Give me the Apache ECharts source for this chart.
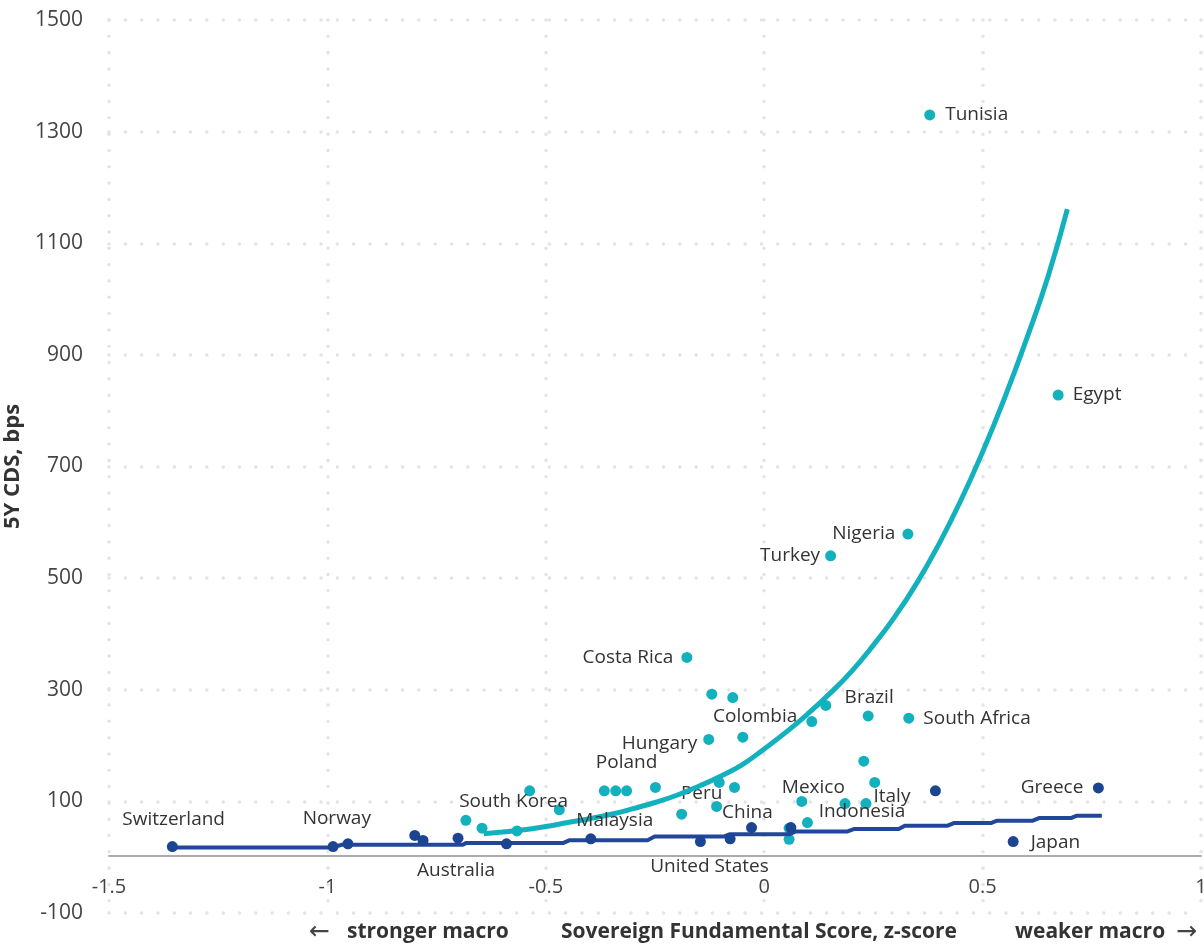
<!DOCTYPE html>
<html><head><meta charset="utf-8">
<script src="https://cdn.jsdelivr.net/npm/echarts@6/dist/echarts.min.js"></script>
<style>html,body{margin:0;padding:0;background:#fff}#c{width:1204px;height:948px}</style>
</head><body><div id="c"></div>
<script>
// Emerging markets (teal)
const emNames = ['Tunisia','Egypt','Nigeria','Turkey','Costa Rica','Brazil','South Africa','Colombia','','','',
  'Hungary','','Poland','','','','South Korea','','','','','Peru','','','China','','','Mexico','','Indonesia','','',''];
const emScore = [0.379,0.673,0.329,0.152,-0.177,0.238,0.331,0.109,0.141,-0.120,-0.072,
  -0.127,-0.049,-0.315,-0.366,-0.340,-0.249,-0.537,-0.469,-0.683,-0.646,-0.566,-0.189,-0.103,-0.068,-0.109,0.057,0.057,0.086,0.099,0.185,0.233,0.228,0.253];
const emCds = [1330,828,579,540,358,253,249,243,272,292,286,
  211,215,119,119,119,125,119,85,66,52,47,77,134,125,91,52,32,100,62,96,96,172,134];

// Developed markets (navy)
const dmNames = ['Switzerland','Norway','','','','Australia','','Malaysia','United States','','','','Italy','Japan','Greece'];
const dmScore = [-1.355,-0.987,-0.953,-0.800,-0.781,-0.701,-0.590,-0.397,-0.146,-0.078,-0.029,0.061,0.392,0.570,0.765];
const dmCds = [19,19,24,39,30,34,24,33,28,33,53,53,119,28,124];

// Fitted curves
const emFitScore = [-0.642,-0.60,-0.55,-0.50,-0.45,-0.40,-0.35,-0.30,-0.25,-0.20,-0.15,-0.10,-0.05,0.00,0.05,0.10,0.15,0.20,0.25,0.30,0.35,0.40,0.45,0.50,0.55,0.60,0.65,0.694];
const emFitCds = [42,45,49,55,62,69,77,87,98,111,127,145,166,194,224,257,293,333,380,432,492,561,639,726,822,927,1041,1161];
const dmFitScore = [-1.354,-0.988,-0.967,-0.690,-0.683,-0.461,-0.445,-0.267,-0.251,-0.093,-0.078,0.058,0.072,0.191,0.205,0.308,0.322,0.420,0.434,0.519,0.533,0.615,0.629,0.702,0.716,0.773];
const dmFitCds = [17.5,17.5,22.3,22.3,25.2,25.2,30.5,30.5,37,37,41.3,41.3,46.2,46.2,50.3,50.3,56.4,56.4,61.1,61.1,65.4,65.4,70,70,74.4,74.4];

const yTickValues = [-100,100,300,500,700,900,1100,1300,1500];

// label placement (layout, not data)
const labelPlace = {
  'Tunisia':['right',10,0], 'Egypt':['right',9,0], 'Nigeria':['left',7,0], 'Turkey':['left',5,0],
  'Costa Rica':['left',8,0], 'Brazil':['c',1,-18], 'South Africa':['right',9,0], 'Colombia':['left',9,-5],
  'Hungary':['left',6,4], 'Poland':['c',0,-28], 'South Korea':['c',-16,11], 'Peru':['c',20,-21],
  'China':['right',0,6], 'Mexico':['c',11.6,-13.3], 'Indonesia':['c',17,8.4], 'Italy':['left',19.5,6],
  'Switzerland':['c',1.3,-27], 'Norway':['c',3.7,-28], 'Australia':['c',-2,32.6], 'United States':['c',9,25],
  'Malaysia':['c',24,-18], 'Japan':['right',12,0.7], 'Greece':['left',9.5,0]
};

const FONT = '"Open Sans", sans-serif';
const TEAL = '#12b1bd', NAVY = '#1b4591', NAVY_LINE = '#22479a';
const TXT = '#333';
const dotted = {color:'#e2e3e5', width:3.5, type:[0.01,16.3], cap:'round'};

function pointLabel(name){
  const p = labelPlace[name];
  if (!name || !p) return {show:false};
  const base = {show:true, formatter:'{b}', color:TXT, fontSize:19, fontFamily:FONT};
  if (p[0]==='c') return Object.assign(base,{position:'inside', offset:[p[1],p[2]], align:'center', verticalAlign:'middle'});
  return Object.assign(base,{position:p[0], distance:p[1], offset:[0,p[2]]});
}
function pts(names, xs, ys){
  return xs.map((x,i)=>({name:names[i], value:[x,ys[i]], label:pointLabel(names[i])}));
}

const chart = echarts.init(document.getElementById('c'), null, {renderer:'canvas'});
chart.setOption({
  animation:false,
  backgroundColor:'#fff',
  textStyle:{fontFamily:FONT},
  grid:{left:109, right:3, top:20, bottom:35, containLabel:false, outerBoundsMode:'none'},
  xAxis:{
    type:'value', min:-1.5, max:1, interval:0.5, offset:-57,
    axisLine:{show:true, onZero:false, lineStyle:{color:'#a8acb1', width:2}},
    axisTick:{show:false},
    axisLabel:{fontSize:20, color:'#444', margin:21, fontFamily:FONT},
    splitLine:{show:true, lineStyle:dotted}
  },
  yAxis:{
    type:'value', min:-100, max:1500, interval:100,
    axisLine:{show:false}, axisTick:{show:false}, splitLine:{show:false},
    axisLabel:{fontSize:21, color:'#444', margin:26, fontFamily:FONT,
      formatter:v=> yTickValues.includes(v) ? String(v) : ''},
    name:'5Y CDS, bps', nameLocation:'middle', nameRotate:90, nameGap:74,
    nameTextStyle:{fontWeight:'bold', fontSize:22, color:'#333', fontFamily:FONT}
  },
  graphic:[
    {type:'text', x:309, y:932, style:{text:'←', fill:'#444', font:'25px "DejaVu Sans"', verticalAlign:'middle'}},
    {type:'text', x:347, y:932, style:{text:'stronger macro', fill:'#333', font:'bold 21px "Open Sans"', verticalAlign:'middle'}},
    {type:'text', x:561, y:932, style:{text:'Sovereign Fundamental Score, z-score', fill:'#333', font:'bold 21px "Open Sans"', verticalAlign:'middle'}},
    {type:'text', x:1015, y:932, style:{text:'weaker macro', fill:'#333', font:'bold 21px "Open Sans"', verticalAlign:'middle'}},
    {type:'text', x:1176, y:932, style:{text:'→', fill:'#444', font:'25px "DejaVu Sans"', verticalAlign:'middle'}}
  ],
  series:[
    {type:'scatter', data:[[-1.5,-100]], symbolSize:0, silent:true, z:1,
      markLine:{silent:true, z:1, symbol:['none','none'], label:{show:false}, lineStyle:dotted,
        data: yTickValues.map(v=>({yAxis:v}))}},
    {type:'scatter', name:'EM', data:pts(emNames, emScore, emCds), symbolSize:11, itemStyle:{color:TEAL, opacity:1}, z:10},
    {type:'line', name:'EM fit', data:emFitScore.map((x,i)=>[x,emFitCds[i]]), smooth:0.5, showSymbol:false,
      lineStyle:{color:TEAL, width:5}, z:11},
    {type:'line', name:'DM fit', data:dmFitScore.map((x,i)=>[x,dmFitCds[i]]), showSymbol:false,
      lineStyle:{color:NAVY_LINE, width:4}, z:11},
    {type:'scatter', name:'DM', data:pts(dmNames, dmScore, dmCds), symbolSize:11, itemStyle:{color:NAVY, opacity:1}, z:12}
  ]
});
</script></body></html>
